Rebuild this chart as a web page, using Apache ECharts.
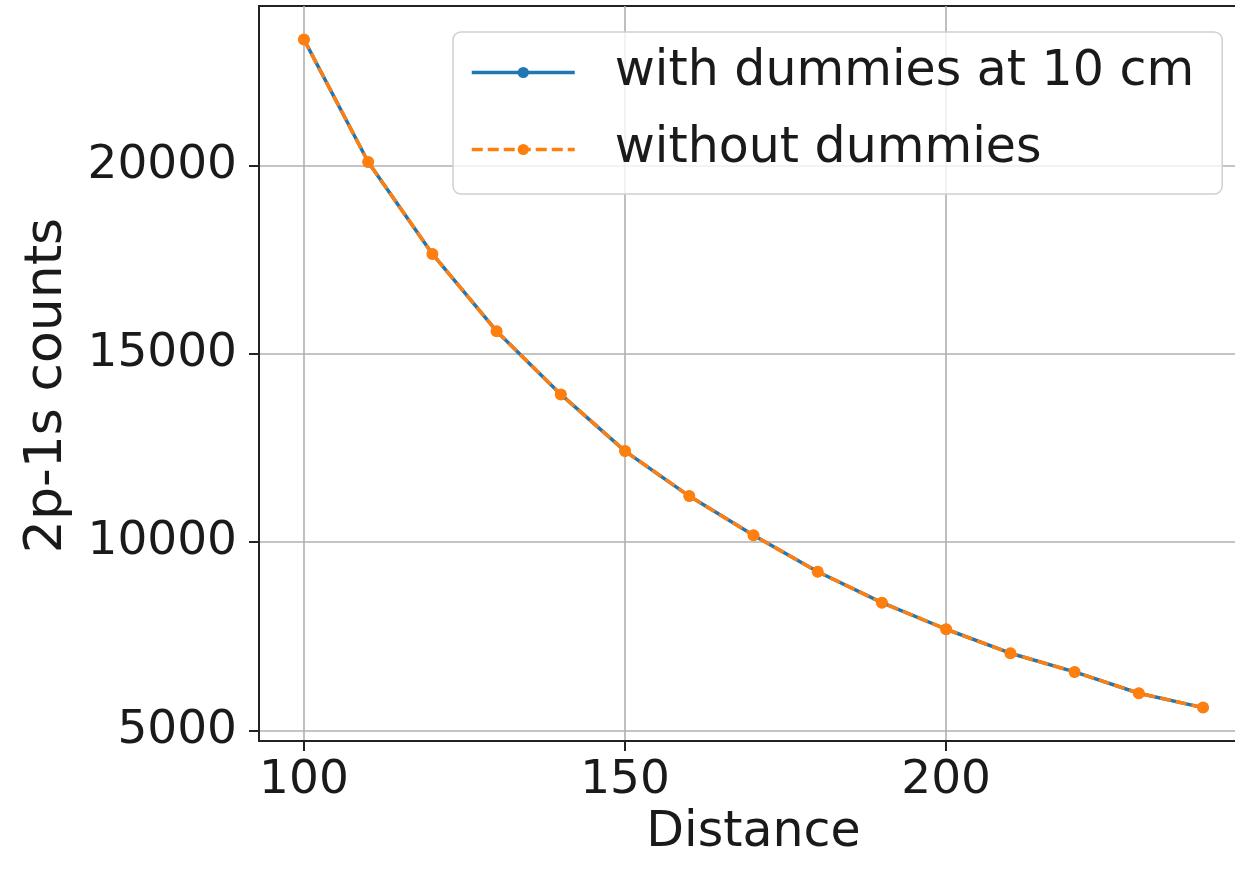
<!DOCTYPE html>
<html>
<head>
<meta charset="utf-8">
<script src="https://cdn.jsdelivr.net/npm/echarts@6/dist/echarts.min.js"></script>
<style>
  html, body { margin: 0; padding: 0; background: #fff; }
  #chart { width: 1235px; height: 869px; }
</style>
</head>
<body>
<div id="chart"></div>
<script>
// distances (x) and 2p-1s counts
const distance = [100, 110, 120, 130, 140, 150, 160, 170, 180, 190, 200, 210, 220, 230, 240]
const withDummies = [23352, 20096, 17654, 15602, 13923, 12418, 11223, 10180, 9214, 8392, 7686, 7049, 6553, 5987, 5605]
const withoutDummies = [23352, 20096, 17654, 15602, 13923, 12418, 11223, 10180, 9214, 8392, 7686, 7049, 6553, 5987, 5605]
const xTicks = [100, 150, 200]
const yTicks = [5000, 10000, 15000, 20000]

const font = 'DejaVu Sans'
const dark = '#222'

const chart = echarts.init(document.getElementById('chart'))

const pairs = (ys) => distance.map((d, i) => [d, ys[i]])

chart.setOption({
    backgroundColor: '#fff',
    animation: false,
    grid: {
        left: 259,
        top: 6,
        width: 989,
        height: 735,
        outerBoundsMode: 'none',
        containLabel: false,
        show: true,
        borderColor: dark,
        borderWidth: 2,
        backgroundColor: 'transparent'
    },
    legend: {
        orient: 'vertical',
        left: 453,
        top: 32,
        padding: [16, 28, 20, 17],
        itemWidth: 103,
        itemHeight: 14,
        itemGap: 28,
        backgroundColor: 'rgba(255,255,255,0.8)',
        borderColor: '#d0d0d0',
        borderWidth: 1.5,
        borderRadius: 8,
        lineStyle: { width: 3.5 },
        textStyle: {
            fontFamily: font,
            fontSize: 49,
            lineHeight: 49,
            color: '#1a1a1a',
            padding: [0, 0, 0, 35]
        },
        data: ['with dummies at 10 cm', 'without dummies']
    },
    xAxis: {
        type: 'value',
        min: 93,
        max: 247,
        name: 'Distance',
        nameLocation: 'middle',
        nameGap: 54,
        nameTextStyle: { fontFamily: font, fontSize: 49, color: '#1a1a1a' },
        axisLine: { lineStyle: { color: dark, width: 2 } },
        axisTick: { show: true, inside: false, length: 10, customValues: xTicks, lineStyle: { color: dark, width: 2 } },
        axisLabel: {
            customValues: xTicks,
            formatter: (v) => String(v),
            fontFamily: font,
            fontSize: 47,
            color: '#1a1a1a',
            margin: 16
        },
        splitLine: { show: true, lineStyle: { color: '#b0b0b0', width: 1.6 } }
    },
    yAxis: {
        type: 'value',
        min: 4718,
        max: 24239,
        name: '2p-1s counts',
        nameLocation: 'middle',
        nameRotate: 90,
        nameGap: 186,
        nameTextStyle: { fontFamily: font, fontSize: 52, color: '#1a1a1a', padding: [0, 24, 0, 0] },
        axisLine: { show: true, lineStyle: { color: dark, width: 2 } },
        axisTick: { show: true, inside: false, length: 10, customValues: yTicks, lineStyle: { color: dark, width: 2 } },
        axisLabel: {
            customValues: yTicks,
            formatter: (v) => String(v),
            fontFamily: font,
            fontSize: 47,
            color: '#1a1a1a',
            margin: 22
        },
        splitLine: { show: true, lineStyle: { color: '#b0b0b0', width: 1.6 } }
    },
    series: [
        {
            name: 'with dummies at 10 cm',
            type: 'line',
            data: pairs(withDummies),
            symbol: 'circle',
            symbolSize: 11,
            color: '#1f77b4',
            lineStyle: { color: '#1f77b4', width: 3.5 },
            itemStyle: { color: '#1f77b4' }
        },
        {
            name: 'without dummies',
            type: 'line',
            data: pairs(withoutDummies),
            symbol: 'circle',
            symbolSize: 12,
            color: '#ff7f0e',
            lineStyle: { color: '#ff7f0e', width: 3.5, type: [11, 5] },
            itemStyle: { color: '#ff7f0e' }
        }
    ]
})
</script>
</body>
</html>
